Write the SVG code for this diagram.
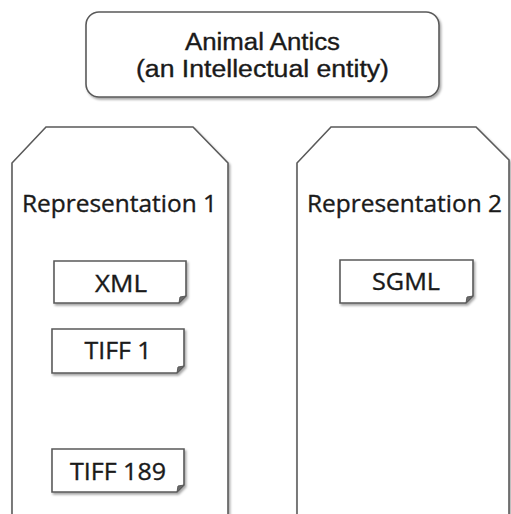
<svg xmlns="http://www.w3.org/2000/svg" width="511" height="514" viewBox="0 0 511 514">
<defs>
<filter id="sh" x="-10%" y="-10%" width="130%" height="130%">
<feDropShadow dx="1.5" dy="2" stdDeviation="1.2" flood-color="#000" flood-opacity="0.35"/>
</filter>
<style>
.box{fill:#fff;stroke:#5a5a5a;stroke-width:1.6;filter:url(#sh)}
.fold{fill:#6a6a6a;stroke:#5a5a5a;stroke-width:1}
text{font-family:"Open Sans","Liberation Sans",sans-serif;fill:#1a1a1a;stroke:#1a1a1a;stroke-width:0.35;text-anchor:middle}
.t{font-family:"Liberation Sans","Open Sans",sans-serif;font-size:23px}
.r{font-size:24px}
.d{font-size:23px}
</style>
</defs>
<g id="entity">
<rect class="box" x="86" y="12" width="353" height="85" rx="13"/>
<text class="t" x="262.5" y="50" textLength="155" lengthAdjust="spacingAndGlyphs">Animal Antics</text>
<text class="t" x="262.5" y="77" textLength="253" lengthAdjust="spacingAndGlyphs">(an Intellectual entity)</text>
</g>
<g id="rep1">
<path class="box" d="M12,516 V163 L46,127 H193 L228,163 V516"/>
<text class="r" x="119.5" y="212" textLength="195" lengthAdjust="spacingAndGlyphs">Representation 1</text>
</g>
<g id="rep2">
<path class="box" d="M297,516 V163 L331,127 H476 L509,160 V516"/>
<text class="r" x="404.5" y="212" textLength="195" lengthAdjust="spacingAndGlyphs">Representation 2</text>
</g>
<g id="xml">
<path class="box" d="M54,261 H186 V296 L179,303 H54 Z"/>
<path class="fold" d="M186,296 L179,303 L180,297 Z"/>
<text class="d" x="121" y="292" textLength="52" lengthAdjust="spacingAndGlyphs">XML</text>
</g>
<g id="tiff1">
<path class="box" d="M52,329 H184 V366 L177,373 H52 Z"/>
<path class="fold" d="M184,366 L177,373 L178,367 Z"/>
<text class="d" x="118" y="359" textLength="67" lengthAdjust="spacingAndGlyphs">TIFF 1</text>
</g>
<g id="tiff189">
<path class="box" d="M52,449 H184 V485 L177,492 H52 Z"/>
<path class="fold" d="M184,485 L177,492 L178,486 Z"/>
<text class="d" x="118" y="480" textLength="96" lengthAdjust="spacingAndGlyphs">TIFF 189</text>
</g>
<g id="sgml">
<path class="box" d="M340,260 H473 V296 L466,303 H340 Z"/>
<path class="fold" d="M473,296 L466,303 L467,297 Z"/>
<text class="d" x="406" y="290" textLength="68" lengthAdjust="spacingAndGlyphs">SGML</text>
</g>
<g id="connectors"/>
</svg>
